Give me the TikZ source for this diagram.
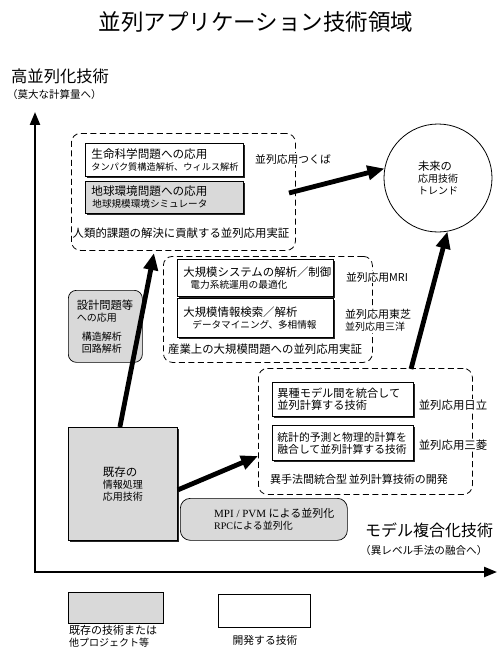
\documentclass[tikz,border=0pt]{standalone}
\usepackage{fontspec}
\setmainfont{Noto Sans CJK JP}
\newfontfamily\lser{Liberation Serif}
\usetikzlibrary{arrows.meta,shadows,calc}
\newcommand\jfs[2]{\fontsize{#1}{#2}\selectfont}
\definecolor{texgray}{gray}{0.85}
\tikzset{
  dbox/.style={draw, dash pattern=on 6pt off 3.5pt, line width=0.8pt, rounded corners=9pt, minimum width=#1, anchor=north west, inner sep=0pt},
  ibox/.style={draw, line width=0.8pt, anchor=north west, align=left, inner xsep=6pt, inner ysep=0pt,
     drop shadow={shadow xshift=1.8pt, shadow yshift=-1.8pt, fill=black!85, opacity=1}},
  wfill/.style={fill=white},
  gfill/.style={fill=texgray},
  lab/.style={fill=white, inner sep=1.2pt},
  bigarrow/.style={line width=4.8pt, -{Triangle[length=17pt,width=14pt]}},
  axisline/.style={line width=2.3pt, line join=miter, {Triangle[length=13pt,width=10pt]}-{Triangle[length=13pt,width=10pt]}},
}
\begin{document}
\begin{tikzpicture}[x=1pt,y=-1pt]
\useasboundingbox[fill=white] (0,0) rectangle (500,658);

% title
\node (title) at (256,22) {\jfs{22.5}{24}並列アプリケーション技術領域};

% axes labels
\node[anchor=west, inner sep=0pt] (ylab) at (11,76) {\jfs{16.3}{18}高並列化技術};
\node[anchor=west, inner sep=0pt] (ylab2) at (7,95) {\jfs{10.5}{12}（莫大な計算量へ）};
\node[anchor=west, inner sep=0pt] (xlab) at (365,530) {\jfs{16}{18}モデル複合化技術};
\node[anchor=west, inner sep=0pt] (xlab2) at (360,550) {\jfs{10.6}{12}（異レベル手法の融合へ）};

% axes
\coordinate (ytop) at (35,112);
\coordinate (xend) at (497,572);
\draw[axisline] (ytop) |- (xend);

% dashed groups
\node[dbox=224pt, minimum height=117pt] (grp1) at (71,133) {};
\node[dbox=209pt, minimum height=106pt] (grp2) at (163,256) {};
\node[dbox=214pt, minimum height=126pt] (grp3) at (258,368) {};

% group 1 inner boxes
\node[ibox, wfill, text width=146pt, minimum height=33pt] (life) at (85,143)
  {\jfs{11.6}{17}生命科学問題への応用\\\jfs{9.2}{17}タンパク質構造解析、ウィルス解析};
\node[ibox, gfill, text width=146pt, minimum height=32pt] (earth) at (85,181)
  {\jfs{11.6}{16}地球環境問題への応用\\\jfs{9.6}{16}\hspace*{1pt}地球規模環境シミュレータ};

% group 2 inner boxes
\node[ibox, wfill, text width=144pt, minimum height=37pt] (sys) at (177,259)
  {\jfs{11.4}{15}大規模システムの解析／制御\\\jfs{9.7}{15}\hspace*{7pt}電力系統運用の最適化};
\node[ibox, wfill, text width=144pt, minimum height=39pt] (info) at (177,298)
  {\jfs{11.4}{19}大規模情報検索／解析\\\jfs{9.6}{19}\hspace*{9pt}データマイニング、多相情報};

% group 3 inner boxes
\node[ibox, wfill, inner xsep=5pt, text width=131pt, minimum height=34pt] (hetero) at (272,382)
  {\jfs{11.2}{16}異種モデル間を統合して\\並列計算する技術};
\node[ibox, wfill, inner xsep=5pt, text width=131pt, minimum height=35pt] (stat) at (272,425)
  {\jfs{10.8}{15.5}統計的予測と物理的計算を\\融合して並列計算する技術};

% group labels
\node[lab] (tsukuba) at (293,159) {\jfs{10.8}{13}並列応用つくば};
\node[lab] (mri) at (377,277) {\jfs{10.8}{13}並列応用MRI};
\node[lab, align=left] (toshiba) at (378,320.5) {\jfs{11}{15}並列応用東芝\\並列応用三洋};
\node[lab] (hitachi) at (453,405) {\jfs{11.4}{13}並列応用日立};
\node[lab] (mitsu) at (453,445) {\jfs{11.4}{13}並列応用三菱};
\node[inner sep=0pt] (cap1) at (181,233) {\jfs{11.4}{13}人類的課題の解決に貢献する並列応用実証};
\node[inner sep=0pt] (cap2) at (265,349) {\jfs{11.4}{13}産業上の大規模問題への並列応用実証};
\node[inner sep=0pt] (cap3) at (359,479) {\jfs{11}{13}異手法間統合型\,並列計算技術の開発};

% future circle
\node[draw, circle, line width=0.8pt, minimum size=108pt, align=left, fill=white] (fut) at (438,178)
  {\jfs{11.3}{17}未来の\\応用技術\\トレンド};

% design problems box
\node[draw, gfill, rounded corners=8pt, line width=0.7pt, anchor=north west, minimum width=74pt, minimum height=72pt, inner sep=0pt] (design) at (68,290) {};
\node[align=left, inner sep=0pt] (designtxt) at (105,327)
  {\jfs{11.3}{13.5}設計問題等\\への応用\\[7pt]\jfs{10}{14}\hspace*{5pt}構造解析\\\hspace*{5pt}回路解析};

% existing technology box
\node[ibox, gfill, align=left, minimum width=109pt, minimum height=113pt, inner xsep=0pt] (exist) at (68,427)
  {\jfs{11.5}{12.5}既存の\\情報処理\\応用技術};

% MPI box
\node[draw, gfill, rounded corners=10pt, line width=0.7pt, anchor=north west, minimum width=167pt, minimum height=42pt, inner sep=0pt] (mpi) at (180,498) {};
\node[anchor=west, align=left, inner sep=0pt] (mpitxt) at (214,519)
  {\jfs{11}{14}{\lser MPI / PVM} による並列化\\{\lser RPC}による並列化};

% arrows
\coordinate (a1s) at (289,193);
\coordinate (a2s) at (411,369);
\coordinate (a3e) at (258,456);
\coordinate (a4e) at (154,253);
\draw[bigarrow] (a1s) -- (fut.170);
\draw[bigarrow] (a2s) -- (fut.280);
\draw[bigarrow] ($(exist.east)+(0,6)$) -- (a3e);
\draw[bigarrow] ($(exist.north)+(-3,0)$) -- (a4e);

% legend
\node[draw, gfill, line width=0.7pt, anchor=north west, minimum width=95pt, minimum height=31pt, inner sep=0pt] (leg1) at (68,592) {};
\node[draw, fill=white, line width=0.7pt, anchor=north west, minimum width=92pt, minimum height=33pt, inner sep=0pt] (leg2) at (218,594) {};
\node[align=left, inner sep=0pt, anchor=north west] (leg1txt) at (69,625) {\jfs{11}{13}既存の技術または\\他プロジェクト等};
\node[inner sep=0pt] (leg2txt) at (265,640) {\jfs{10.8}{13}開発する技術};
\end{tikzpicture}
\end{document}
